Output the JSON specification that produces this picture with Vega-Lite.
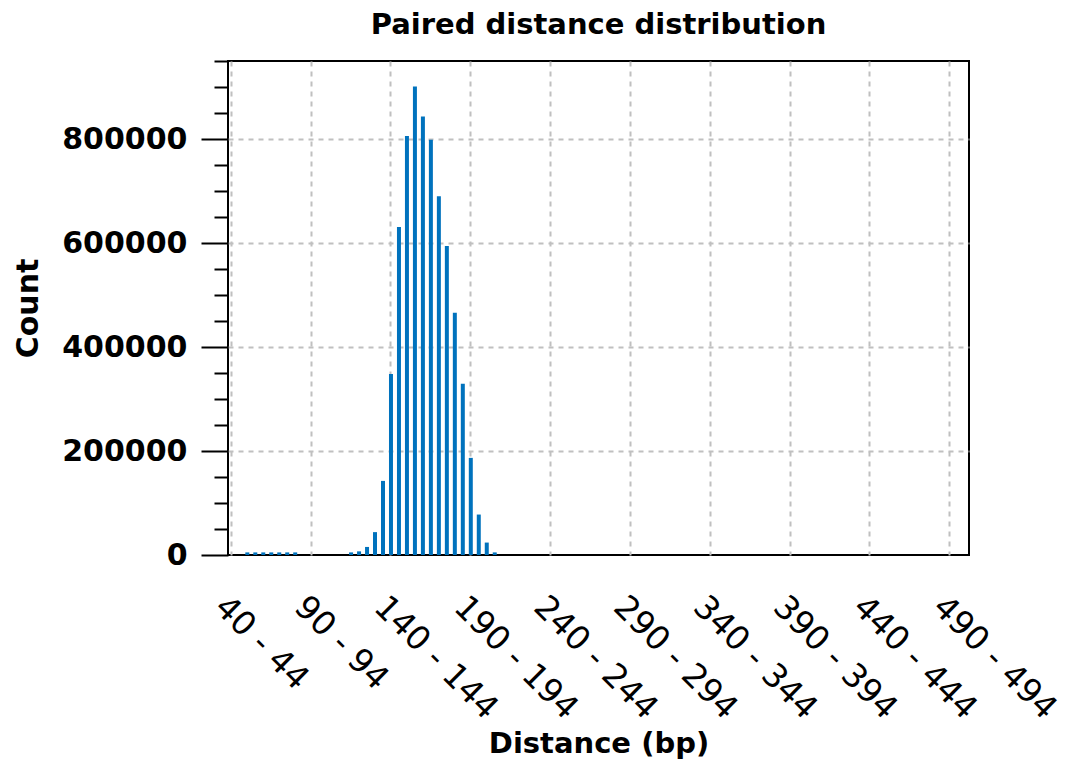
{
  "$schema": "https://vega.github.io/schema/vega-lite/v6.json",
  "autosize": {"type": "none"},
  "padding": {"top": 61, "left": 228, "right": 97, "bottom": 212},
  "width": 741,
  "height": 494,
  "background": "white",
  "title": {"text": "Paired distance distribution", "font": "DejaVu Sans", "fontSize": 29, "fontWeight": "bold", "color": "black", "offset": 20, "anchor": "middle"},
  "config": {"view": {"stroke": "black", "strokeWidth": 2}},
  "data": {"values": [
    {"bin": "40 - 44", "count": 0},
    {"bin": "45 - 49", "count": 0},
    {"bin": "50 - 54", "count": 5000},
    {"bin": "55 - 59", "count": 5000},
    {"bin": "60 - 64", "count": 5000},
    {"bin": "65 - 69", "count": 5000},
    {"bin": "70 - 74", "count": 5000},
    {"bin": "75 - 79", "count": 5000},
    {"bin": "80 - 84", "count": 5000},
    {"bin": "85 - 89", "count": 0},
    {"bin": "90 - 94", "count": 0},
    {"bin": "95 - 99", "count": 0},
    {"bin": "100 - 104", "count": 0},
    {"bin": "105 - 109", "count": 0},
    {"bin": "110 - 114", "count": 0},
    {"bin": "115 - 119", "count": 5000},
    {"bin": "120 - 124", "count": 7000},
    {"bin": "125 - 129", "count": 15500},
    {"bin": "130 - 134", "count": 44000},
    {"bin": "135 - 139", "count": 142500},
    {"bin": "140 - 144", "count": 348000},
    {"bin": "145 - 149", "count": 631000},
    {"bin": "150 - 154", "count": 806000},
    {"bin": "155 - 159", "count": 901000},
    {"bin": "160 - 164", "count": 843500},
    {"bin": "165 - 169", "count": 798700},
    {"bin": "170 - 174", "count": 690000},
    {"bin": "175 - 179", "count": 594000},
    {"bin": "180 - 184", "count": 466000},
    {"bin": "185 - 189", "count": 329300},
    {"bin": "190 - 194", "count": 186800},
    {"bin": "195 - 199", "count": 77800},
    {"bin": "200 - 204", "count": 23900},
    {"bin": "205 - 209", "count": 5000},
    {"bin": "210 - 214", "count": 0},
    {"bin": "215 - 219", "count": 0},
    {"bin": "220 - 224", "count": 0},
    {"bin": "225 - 229", "count": 0},
    {"bin": "230 - 234", "count": 0},
    {"bin": "235 - 239", "count": 0},
    {"bin": "240 - 244", "count": 0},
    {"bin": "245 - 249", "count": 0},
    {"bin": "250 - 254", "count": 0},
    {"bin": "255 - 259", "count": 0},
    {"bin": "260 - 264", "count": 0},
    {"bin": "265 - 269", "count": 0},
    {"bin": "270 - 274", "count": 0},
    {"bin": "275 - 279", "count": 0},
    {"bin": "280 - 284", "count": 0},
    {"bin": "285 - 289", "count": 0},
    {"bin": "290 - 294", "count": 0},
    {"bin": "295 - 299", "count": 0},
    {"bin": "300 - 304", "count": 0},
    {"bin": "305 - 309", "count": 0},
    {"bin": "310 - 314", "count": 0},
    {"bin": "315 - 319", "count": 0},
    {"bin": "320 - 324", "count": 0},
    {"bin": "325 - 329", "count": 0},
    {"bin": "330 - 334", "count": 0},
    {"bin": "335 - 339", "count": 0},
    {"bin": "340 - 344", "count": 0},
    {"bin": "345 - 349", "count": 0},
    {"bin": "350 - 354", "count": 0},
    {"bin": "355 - 359", "count": 0},
    {"bin": "360 - 364", "count": 0},
    {"bin": "365 - 369", "count": 0},
    {"bin": "370 - 374", "count": 0},
    {"bin": "375 - 379", "count": 0},
    {"bin": "380 - 384", "count": 0},
    {"bin": "385 - 389", "count": 0},
    {"bin": "390 - 394", "count": 0},
    {"bin": "395 - 399", "count": 0},
    {"bin": "400 - 404", "count": 0},
    {"bin": "405 - 409", "count": 0},
    {"bin": "410 - 414", "count": 0},
    {"bin": "415 - 419", "count": 0},
    {"bin": "420 - 424", "count": 0},
    {"bin": "425 - 429", "count": 0},
    {"bin": "430 - 434", "count": 0},
    {"bin": "435 - 439", "count": 0},
    {"bin": "440 - 444", "count": 0},
    {"bin": "445 - 449", "count": 0},
    {"bin": "450 - 454", "count": 0},
    {"bin": "455 - 459", "count": 0},
    {"bin": "460 - 464", "count": 0},
    {"bin": "465 - 469", "count": 0},
    {"bin": "470 - 474", "count": 0},
    {"bin": "475 - 479", "count": 0},
    {"bin": "480 - 484", "count": 0},
    {"bin": "485 - 489", "count": 0},
    {"bin": "490 - 494", "count": 0},
    {"bin": "495 - 499", "count": 0},
    {"bin": "500 - 504", "count": 0}
  ]},
  "mark": {"type": "bar", "color": "#0072bd"},
  "encoding": {
    "x": {
      "field": "bin", "type": "ordinal", "sort": null,
      "scale": {"paddingInner": 0.5, "paddingOuter": 0.17},
      "axis": {
        "values": ["40 - 44", "90 - 94", "140 - 144", "190 - 194", "240 - 244", "290 - 294", "340 - 344", "390 - 394", "440 - 444", "490 - 494"],
        "bandPosition": 0.5,
        "ticks": false,
        "domain": false,
        "labelAngle": 45,
        "labelFont": "DejaVu Sans",
        "labelFontSize": 33,
        "labelColor": "black",
        "labelPadding": 35,
        "grid": true,
        "gridColor": "#c0c0c0",
        "gridDash": [5, 5],
        "gridWidth": 2,
        "title": "Distance (bp)",
        "titleFont": "DejaVu Sans",
        "titleFontSize": 29,
        "titleFontWeight": "bold",
        "titleColor": "black",
        "titlePadding": 4
      }
    },
    "y": {
      "field": "count", "type": "quantitative",
      "scale": {"domain": [0, 950000], "nice": false},
      "axis": {
        "values": [0, 50000, 100000, 150000, 200000, 250000, 300000, 350000, 400000, 450000, 500000, 550000, 600000, 650000, 700000, 750000, 800000, 850000, 900000, 950000],
        "labelExpr": "datum.value % 200000 === 0 ? datum.value : ''",
        "tickSize": {"condition": {"test": "datum.value % 200000 === 0", "value": 27}, "value": 14},
        "tickWidth": 2,
        "tickColor": "black",
        "domain": false,
        "labelFont": "DejaVu Sans",
        "labelFontSize": 30,
        "labelFontWeight": "bold",
        "labelColor": "black",
        "labelPadding": 14,
        "grid": true,
        "gridColor": "#c0c0c0",
        "gridDash": [5, 5],
        "gridWidth": 2,
        "gridOpacity": {"condition": {"test": "datum.value % 200000 === 0 && datum.value > 0", "value": 1}, "value": 0},
        "title": "Count",
        "titleFont": "DejaVu Sans",
        "titleFontSize": 30,
        "titleFontWeight": "bold",
        "titleColor": "black",
        "titlePadding": 18
      }
    }
  }
}
